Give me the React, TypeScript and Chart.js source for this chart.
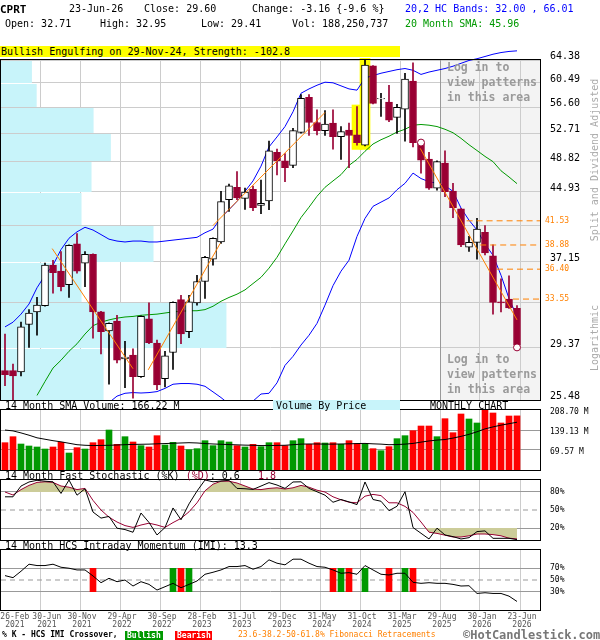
import React, { useEffect, useRef } from 'react';
import { Chart, registerables } from 'chart.js';

Chart.register(...registerables);

const MONO = '"DejaVu Sans Mono", "Liberation Mono", monospace';
const MAROON = '#990033';
const UP_GREEN = '#009900';
const DOWN_RED = '#ff0000';
const BLUE = '#0000ff';
const SMA_GREEN = '#009900';
const ORANGE = '#ff8000';
const KHAKI = '#cccc99';
const CYAN = '#c8f4fa';
const GRID = '#cccccc';
const LEVEL = '#999999';
const CLEAR = 'rgba(0,0,0,0)';

// ---------------- data (monthly, Feb-2021 .. Jun-2026) ----------------
const opens = [27.6, 27.6, 27.5, 31.3, 32.4, 32.95, 36.8, 36.2, 34.9, 39.0,
  37.0, 37.9, 32.4, 30.75, 31.6, 28.5, 28.8, 27.15, 31.8, 29.75,
  27.0, 29.0, 33.5, 30.7, 33.2, 35.2, 37.4, 39.2, 44.0, 45.5,
  44.15, 45.25, 43.3, 43.85, 50.05, 48.9, 48.3, 52.85, 58.15, 54.3,
  53.1, 54.2, 52.25, 53.2, 52.5, 51.05, 63.35, 57.9, 57.4, 55.05,
  56.3, 60.8, 51.3, 49.15, 45.4, 48.6, 45.05, 42.9, 38.65, 39.15,
  40.25, 37.75, 33.3, 33.55, 32.71];
const highs = [30.5, 28.1, 31.5, 32.6, 33.7, 37.0, 37.3, 38.2, 38.9, 40.1,
  38.2, 37.95, 32.45, 31.45, 32.1, 29.9, 29.3, 32.05, 33.2, 30.0,
  29.1, 33.3, 33.9, 33.9, 35.8, 37.7, 39.65, 45.0, 45.9, 47.5,
  45.4, 45.65, 46.4, 51.6, 50.5, 49.9, 53.45, 58.6, 58.6, 56.2,
  56.1, 56.2, 53.7, 54.2, 56.7, 64.38, 63.4, 58.8, 60.1, 57.05,
  62.1, 63.9, 51.6, 50.05, 48.9, 50.25, 46.0, 42.95, 39.8, 41.8,
  41.0, 38.9, 35.45, 35.75, 32.95];
const lows = [26.5, 25.48, 27.2, 29.4, 30.4, 32.9, 34.1, 34.3, 33.7, 36.0,
  34.7, 30.15, 28.9, 26.6, 28.2, 26.35, 25.6, 27.1, 29.7, 26.2,
  26.4, 27.7, 29.7, 30.2, 33.0, 33.6, 36.8, 39.05, 42.6, 44.0,
  42.85, 42.7, 42.35, 42.8, 47.05, 46.2, 48.0, 52.75, 52.4, 52.5,
  52.4, 50.5, 49.1, 48.0, 51.05, 50.95, 57.1, 55.2, 54.4, 52.7,
  51.6, 50.8, 47.3, 45.25, 45.15, 44.35, 41.9, 38.7, 38.2, 37.4,
  37.85, 32.2, 32.4, 32.7, 29.41];
const closes = [27.3, 27.2, 31.1, 32.3, 33.0, 36.8, 36.05, 34.7, 38.85, 36.2,
  37.9, 32.4, 30.7, 31.4, 28.4, 28.65, 27.15, 32.0, 29.8, 26.55,
  28.75, 33.25, 30.5, 33.3, 35.2, 37.6, 39.6, 43.75, 45.7, 44.2,
  44.9, 43.05, 43.55, 50.25, 48.9, 48.0, 53.1, 58.0, 54.3, 53.1,
  54.05, 52.25, 52.95, 52.4, 51.4, 63.5, 57.2, 58.0, 54.65, 56.6,
  61.1, 51.4, 49.0, 45.4, 48.8, 44.95, 43.05, 38.9, 39.15, 40.6,
  38.05, 33.25, 33.2, 32.76, 29.6];

const upperBand = [31.1, 31.5, 32.2, 33.1, 34.6, 35.8, 36.8, 38.4, 39.6, 40.3,
  40.8, 40.5, 40.0, 39.5, 39.3, 39.2, 39.3, 39.3, 39.2, 39.2,
  39.3, 39.4, 39.5, 39.6, 39.7, 40.2, 40.6, 41.9, 42.8, 43.8,
  45.0, 46.3, 48.2, 50.8, 52.2, 53.7, 55.9, 58.8, 59.5, 60.1,
  60.6, 60.5, 60.0, 59.5, 59.3, 61.3, 61.7, 62.1, 62.4, 62.7,
  62.9, 62.6, 61.9, 62.3, 62.6, 62.9, 63.3, 63.8, 64.3, 64.6,
  65.0, 65.4, 65.7, 65.9, 66.01];
const lowerBand = [null, null, null, null, null, null, null, null, null, null,
  null, null, null, 25.3, 25.75, 25.95, 26.0, 25.97, 26.0, 26.07,
  26.3, 26.6, 26.65, 26.65, 26.6, 26.45, 26.05, 25.65, 25.2, 24.8,
  24.9, 25.4, 25.9, 25.95, 26.7, 28.0, 28.7, 29.6, 30.4, 31.4,
  33.0, 34.8, 36.2, 37.3, 39.8, 41.8, 43.2, 43.7, 44.2, 45.2,
  46.0, 47.3, 46.6, 46.2, 46.0, 45.7, 45.0, 43.0, 41.6, 40.5,
  39.0, 37.8, 35.8, 33.6, 32.0];
const sma20 = [null, null, null, null, 25.8, 26.8, 27.8, 28.4, 29.1, 29.7,
  30.5, 31.2, 31.5, 31.7, 31.85, 31.95, 32.0, 32.1, 32.15, 32.2,
  32.3, 32.4, 32.45, 32.5, 32.5, 32.6, 32.9, 33.35, 33.7, 34.0,
  34.4, 35.0, 35.6, 36.5, 37.6, 39.0, 40.4, 41.9, 43.1, 44.4,
  45.5, 46.3, 47.1, 48.3, 49.1, 50.2, 51.2, 51.8, 52.3, 52.9,
  53.3, 53.9, 54.0, 53.9, 53.7, 53.3, 52.8, 52.0, 51.1, 50.3,
  49.5, 48.8, 47.6, 46.8, 45.96];

const volumesM = [95.0, 115.9, 90.4, 83.5, 80.0, 73.0, 80.0, 96.2, 59.1, 77.7,
  73.0, 95.0, 105.5, 139.1, 89.3, 115.9, 97.4, 84.7, 80.0, 119.4,
  87.0, 96.2, 83.5, 70.7, 74.2, 102.0, 84.7, 102.0, 97.4, 84.7,
  80.0, 89.3, 81.2, 95.0, 95.0, 84.7, 102.0, 109.0, 89.3, 95.0,
  93.9, 95.0, 89.3, 102.0, 91.6, 91.6, 74.2, 67.2, 81.2, 109.0,
  119.4, 136.8, 153.0, 153.0, 115.9, 178.5, 129.8, 194.8, 177.4, 163.5,
  207.6, 198.3, 163.5, 187.8, 188.25];
const volumeSma14 = [139, 136, 129, 121, 112, 107, 102, 98, 93, 88,
  86, 85, 85.5, 86, 87, 88, 89, 89.5, 90, 91,
  92, 93, 94, 95, 94, 92, 90.5, 89.5, 88.5, 87.5,
  86.5, 86, 85, 85, 85.5, 86, 88, 90, 90.5, 90.5,
  90, 90, 90.5, 91, 92, 92.5, 91, 90, 88, 88.5,
  90, 92.5, 97, 101, 104, 106, 111, 117, 124, 133,
  143, 150, 156, 161, 166.22];

const stochK = [72, 72, 89.9, 96.7, 99.5, 98, 97, 77.6, 100, 74.7,
  85.4, 46.6, 36.5, 39.3, 19.7, 17.4, 12.9, 45, 29.2, 8.4,
  20.8, 53.4, 33.7, 60.2, 81.5, 100, 97, 98.3, 99.5, 86,
  85.4, 84.3, 89.9, 95.6, 91.6, 86, 96.7, 97, 86, 80.4,
  74.7, 62.9, 67.5, 63.5, 59, 96.7, 67.5, 64.6, 48.9, 56.2,
  80.4, 20.8, 11.2, 1.7, 19.7, 8.4, 5.6, 1.7, 3.9, 14,
  15.2, 2.8, 2.8, 2.8, 0.6];
const stochD = [80, 75, 84, 91, 96, 97, 96, 90, 88, 84,
  86, 66, 50, 38, 30, 24, 21, 25, 28, 25,
  21, 29, 36, 47, 62, 82, 93, 98, 98, 95,
  90, 85, 84, 86, 87, 85, 87, 91, 88, 83,
  80, 72, 67, 63, 62, 73, 76, 74, 62, 62,
  56, 46, 30, 13, 11, 8, 5, 5, 7, 10,
  10, 9, 7, 3, 1.8];

const imi = [57.5, 54, 65, 77, 74.7, 74.7, 77, 71.8, 70.1, 67.2,
  67.2, 56.9, 45.4, 52.9, 47.1, 50, 39.7, 47.1, 42.5, 32.8,
  38.5, 44.3, 36.8, 42.5, 48.3, 59.8, 63.2, 67.2, 73, 73,
  74.7, 68.4, 73, 84.5, 78.7, 75.9, 85.6, 85.6, 78.7, 73,
  71.8, 67.2, 61.5, 62.6, 59.8, 74.7, 67.2, 59.8, 58.6, 61.5,
  61.5, 46, 44.3, 45.4, 44.3, 44.3, 42.5, 39.7, 40.2, 27,
  28.2, 27, 27, 22.4, 13.3];
const bullishCrossMonths = [21, 23, 42, 45, 50];
const bearishCrossMonths = [11, 22, 41, 43, 48, 51];
const crossBand = [30, 70];

const priceTicks = [25.48, 29.37, 33.26, 37.15, 41.04, 44.93, 48.82, 52.71, 56.60, 60.49, 64.38];
const hiddenPriceLabels = [33.26, 41.04];
const vbpVolumeM = [647, 1422, 508, 962, 508, 571, 693, 584, 225, 195];
const vbpAxisMaxM = 3400;

const fibLevels = [41.53, 38.88, 36.40, 33.55];
const fibStartMonth = [57.7, 59.4, 61.5, 63.5];
const trendLines = [
  [[5.9, 38.5], [16.0, 27.75]],
  [[17.9, 27.66], [26.9, 39.05]],
  [[26.0, 41.0], [40.0, 55.8]],
  [[51.9, 50.6], [64.0, 31.7]],
];
const patternCircles = [[52, 51.4], [64, 29.41]];
const highlightMonths = [44, 45];
const highlightRanges = [[50.45, 56.95], [50.45, 64.68]];
const lockedFromMonth = 54;

const xTickMonths = [0, 4, 9, 14, 19, 24, 29, 34, 39, 44, 49, 54, 59, 64];
const xTickLabels = [['26-Feb', '2021'], ['30-Jun', '2021'], ['30-Nov', '2021'], ['29-Apr', '2022'],
  ['30-Sep', '2022'], ['28-Feb', '2023'], ['31-Jul', '2023'], ['29-Dec', '2023'], ['31-May', '2024'],
  ['31-Oct', '2024'], ['31-Mar', '2025'], ['29-Aug', '2025'], ['30-Jan', '2026'], ['23-Jun', '2026']];
const volTicks = [69.57, 139.13, 208.70];
const stochTicks = [20, 50, 80];
const imiTicks = [30, 50, 70];

// ---------------- helpers ----------------
const X_MIN = -0.5;
const X_MAX = 66.875;
const TICK_SHIFT = 0.375;

const monthIdx = opens.map((_, i) => i);
const isUp = (i: number) => closes[i] >= opens[i];
const series = (arr: any[]) => arr.map((v, i) => ({ x: i, y: v }));

function xAxis(showLabels: boolean) {
  return {
    type: 'linear', axis: 'x', position: 'bottom', min: X_MIN, max: X_MAX, offset: false,
    afterBuildTicks: (s: any) => { s.ticks = xTickMonths.map((m) => ({ value: m + TICK_SHIFT })); },
    afterFit: (s: any) => { s.height = showLabels ? 20 : 0; s.paddingLeft = 0; s.paddingRight = 0; },
    grid: { color: (c: any) => (c.index === 0 ? CLEAR : GRID), lineWidth: 1, drawTicks: false, offset: false },
    border: { display: false },
    ticks: {
      display: showLabels, autoSkip: false, maxRotation: 0, minRotation: 0, padding: 3, labelOffset: 2,
      color: '#555555', font: { family: MONO, size: 8, lineHeight: 1 },
      callback: (_v: any, i: number) => {
        const nudge = i < 2 ? '  ' : '';
        return xTickLabels[i].map((s) => nudge + s);
      },
    },
  };
}

function rightAxis(o: any) {
  return {
    type: o.type, position: 'right', min: o.min, max: o.max, offset: false,
    afterBuildTicks: (s: any) => { s.ticks = o.ticks.map((v: number) => ({ value: v })); },
    afterFit: (s: any) => { s.width = 60; s.paddingTop = 0; s.paddingBottom = 0; },
    grid: { color: o.gridColor, drawTicks: false, lineWidth: 1 },
    border: { display: false },
    ticks: {
      autoSkip: false, padding: 10, labelOffset: o.offset, color: '#000000',
      font: { family: MONO, size: o.size }, callback: o.fmt,
    },
  };
}

const framePlugin = {
  id: 'frame',
  afterDraw(chart: any) {
    const { ctx, chartArea: a } = chart;
    ctx.save();
    ctx.strokeStyle = '#000000';
    ctx.lineWidth = 1;
    ctx.strokeRect(a.left - 0.5, a.top - 0.5, a.right - a.left + 1, a.bottom - a.top + 1);
    ctx.restore();
  },
};

const shadePlugin = {
  id: 'shade',
  beforeDraw(chart: any) {
    const { ctx, chartArea: a } = chart;
    const x0 = chart.scales.x.getPixelForValue(lockedFromMonth + TICK_SHIFT);
    ctx.save();
    ctx.fillStyle = '#f3f3f3';
    ctx.fillRect(x0, a.top, a.right - x0, a.bottom - a.top);
    ctx.restore();
  },
};

const vbpPlugin = {
  id: 'vbp',
  beforeDatasetsDraw(chart: any) {
    const { ctx, chartArea: a } = chart;
    const y = chart.scales.y;
    const xv = chart.scales.xv;
    ctx.save();
    ctx.fillStyle = CYAN;
    vbpVolumeM.forEach((v, k) => {
      const yb = Math.round(y.getPixelForValue(priceTicks[k]));
      const yt = Math.round(y.getPixelForValue(priceTicks[k + 1]));
      const x0 = xv.getPixelForValue(0);
      const x1 = xv.getPixelForValue(v);
      ctx.fillRect(x0, yt + 1, x1 - x0, yb - yt - 1);
    });
    const xl = Math.round(chart.scales.x.getPixelForValue(lockedFromMonth + TICK_SHIFT)) + 0.5;
    ctx.strokeStyle = '#999999';
    ctx.lineWidth = 1;
    ctx.beginPath();
    ctx.moveTo(xl, a.top);
    ctx.lineTo(xl, a.bottom);
    ctx.stroke();
    ctx.restore();
  },
};

const fibLabelPlugin = {
  id: 'fibLabels',
  afterDatasetsDraw(chart: any) {
    const { ctx, chartArea: a } = chart;
    const y = chart.scales.y;
    ctx.save();
    ctx.font = `8px ${MONO}`;
    ctx.fillStyle = ORANGE;
    ctx.textBaseline = 'middle';
    ctx.textAlign = 'left';
    fibLevels.forEach((v) => ctx.fillText(v.toFixed(2), a.right + 5, y.getPixelForValue(v)));
    ctx.restore();
  },
};

const baseOptions = (padding: any) => ({
  responsive: false,
  animation: false,
  devicePixelRatio: 1,
  layout: { padding, autoPadding: false },
  plugins: { legend: { display: false }, tooltip: { enabled: false } },
});

function buildMain() {
  const line = (data: any[], color: string, extra: any = {}) => ({
    type: 'line', data, borderColor: color, borderWidth: 1, pointRadius: 0, tension: 0, ...extra,
  });
  return {
    type: 'bar',
    data: {
      datasets: [
        {
          type: 'bar', data: highlightMonths.map((m, k) => ({ x: m, y: highlightRanges[k] })),
          backgroundColor: '#ffff00', barThickness: 10, grouped: false, order: 20,
          clip: { left: 0, right: 0, bottom: 0, top: false },
        },
        line(series(sma20), SMA_GREEN, { order: 12 }),
        line(series(upperBand), BLUE, { order: 11, clip: { left: 0, right: 0, bottom: 0, top: false } }),
        line(series(lowerBand), BLUE, { order: 11 }),
        {
          type: 'bar', data: monthIdx.map((i) => ({ x: i, y: [lows[i], highs[i]] })),
          backgroundColor: monthIdx.map((i) => (isUp(i) ? '#000000' : MAROON)),
          borderWidth: 0, barThickness: 1, grouped: false, order: 4,
        },
        {
          type: 'bar', data: monthIdx.map((i) => ({ x: i, y: [opens[i], closes[i]] })),
          backgroundColor: monthIdx.map((i) => (isUp(i) ? '#ffffff' : MAROON)),
          borderColor: monthIdx.map((i) => (isUp(i) ? '#000000' : MAROON)),
          borderWidth: 1, borderSkipped: false, barThickness: 7, grouped: false, order: 3,
        },
        ...trendLines.map((tl) => line(tl.map(([x, y]) => ({ x, y })), ORANGE, { order: 2 })),
        ...fibLevels.map((v, k) => line([{ x: fibStartMonth[k], y: v }, { x: X_MAX, y: v }], ORANGE, { order: 2, borderDash: [6, 4] })),
        {
          type: 'line', data: patternCircles.map(([x, y]) => ({ x, y })), showLine: false,
          pointRadius: 3.5, pointBorderColor: MAROON, pointBackgroundColor: '#ffffff', pointBorderWidth: 1, order: 1,
        },
      ],
    },
    options: {
      ...baseOptions({ top: 60, left: 1, right: 0, bottom: 10 }),
      scales: {
        x: xAxis(false),
        xv: { type: 'linear', axis: 'x', position: 'bottom', display: false, offset: false, min: 0, max: vbpAxisMaxM },
        y: rightAxis({
          type: 'logarithmic', min: priceTicks[0], max: priceTicks[priceTicks.length - 1], ticks: priceTicks,
          gridColor: GRID, offset: -3.5, size: 10,
          fmt: (v: any) => (hiddenPriceLabels.includes(Number(v)) ? '' : Number(v).toFixed(2)),
        }),
      },
    },
    plugins: [shadePlugin, vbpPlugin, fibLabelPlugin, framePlugin],
  };
}

function buildVolume() {
  return {
    type: 'bar',
    data: {
      datasets: [
        { type: 'line', data: series(volumeSma14), borderColor: '#000000', borderWidth: 1, pointRadius: 0, order: 1 },
        {
          type: 'bar', data: series(volumesM),
          backgroundColor: monthIdx.map((i) => (isUp(i) ? UP_GREEN : DOWN_RED)),
          borderWidth: 0, barThickness: 6, grouped: false, order: 2,
        },
      ],
    },
    options: {
      ...baseOptions({ top: 5, left: 1, right: 0, bottom: 5 }),
      scales: {
        x: xAxis(false),
        y: rightAxis({
          type: 'linear', min: 0, max: volTicks[volTicks.length - 1], ticks: volTicks, offset: 2, size: 8,
          gridColor: (c: any) => (c.tick && c.tick.value >= volTicks[volTicks.length - 1] ? CLEAR : LEVEL),
          fmt: (v: any) => Number(v).toFixed(2) + ' M',
        }),
      },
    },
    plugins: [framePlugin],
  };
}

function levelLine(v: number) {
  return {
    type: 'line', data: [{ x: X_MIN, y: v }, { x: X_MAX, y: v }], borderColor: LEVEL, borderWidth: 1,
    borderDash: [5, 4], pointRadius: 0, order: 9,
  };
}

function buildStoch() {
  return {
    type: 'line',
    data: {
      datasets: [
        levelLine(50),
        {
          data: series(stochD), borderColor: CLEAR, borderWidth: 0, pointRadius: 0,
          fill: { target: { value: 20 }, above: CLEAR, below: KHAKI }, order: 8,
        },
        {
          data: series(stochD), borderColor: MAROON, borderWidth: 1, pointRadius: 0,
          fill: { target: { value: 80 }, above: KHAKI, below: CLEAR }, order: 2,
        },
        { data: series(stochK), borderColor: '#000000', borderWidth: 1, pointRadius: 0, order: 1 },
      ],
    },
    options: {
      ...baseOptions({ top: 5, left: 1, right: 0, bottom: 5 }),
      scales: {
        x: xAxis(false),
        y: rightAxis({
          type: 'linear', min: 0, max: 100, ticks: stochTicks, offset: 0, size: 8,
          gridColor: (c: any) => (c.tick && c.tick.value === 50 ? CLEAR : LEVEL),
          fmt: (v: any) => v + '%',
        }),
      },
    },
    plugins: [framePlugin],
  };
}

function buildImi() {
  const cross = (months: number[], color: string) => ({
    type: 'bar', data: months.map((m) => ({ x: m, y: crossBand })), backgroundColor: color,
    borderWidth: 0, barThickness: 6, grouped: false, order: 3,
  });
  return {
    type: 'bar',
    data: {
      datasets: [
        levelLine(50),
        cross(bullishCrossMonths, UP_GREEN),
        cross(bearishCrossMonths, DOWN_RED),
        { type: 'line', data: series(imi), borderColor: '#000000', borderWidth: 1, pointRadius: 0, order: 1 },
      ],
    },
    options: {
      ...baseOptions({ top: 5, left: 1, right: 0, bottom: 0 }),
      scales: {
        x: xAxis(true),
        y: rightAxis({
          type: 'linear', min: -1.3, max: 101.3, ticks: imiTicks, offset: 0, size: 8,
          gridColor: (c: any) => (c.tick && c.tick.value === 50 ? CLEAR : LEVEL),
          fmt: (v: any) => v + '%',
        }),
      },
    },
    plugins: [framePlugin],
  };
}

// ---------------- text helpers ----------------
function T(props: any) {
  const { x, cy, size = 10, color = '#000000', bold = false, children, style = {} } = props;
  return (
    <span
      style={{
        position: 'absolute', left: x, top: cy - size / 2, fontSize: size, lineHeight: size + 'px',
        height: size, color, fontWeight: bold ? 'bold' : 'normal', fontFamily: MONO, whiteSpace: 'pre', ...style,
      }}
    >
      {children}
    </span>
  );
}

function Vertical(props: any) {
  const { cx, cy, children } = props;
  return (
    <span
      style={{
        position: 'absolute', left: cx, top: cy, transform: 'translate(-50%, -50%) rotate(-90deg)',
        fontFamily: MONO, fontSize: 10, lineHeight: '10px', color: '#aaaaaa', whiteSpace: 'pre',
      }}
    >
      {children}
    </span>
  );
}

function LockedNote(props: any) {
  return (
    <div
      style={{
        position: 'absolute', left: 447, top: props.top, fontFamily: MONO, fontSize: 11.5, fontWeight: 'bold',
        lineHeight: '15px', color: '#9a9a9a', whiteSpace: 'pre',
      }}
    >
      {'Log in to\nview patterns\nin this area'}
    </div>
  );
}

export default function App() {
  const mainRef = useRef<HTMLCanvasElement>(null);
  const volRef = useRef<HTMLCanvasElement>(null);
  const stochRef = useRef<HTMLCanvasElement>(null);
  const imiRef = useRef<HTMLCanvasElement>(null);

  useEffect(() => {
    const charts = [
      new Chart(mainRef.current as any, buildMain() as any),
      new Chart(volRef.current as any, buildVolume() as any),
      new Chart(stochRef.current as any, buildStoch() as any),
      new Chart(imiRef.current as any, buildImi() as any),
    ];
    return () => charts.forEach((c) => c.destroy());
  }, []);

  const cv = (top: number): any => ({ position: 'absolute', left: 0, top });

  return (
    <div style={{ position: 'fixed', left: 0, top: 0, width: 600, height: 640, background: '#ffffff', overflow: 'hidden' }}>
      <canvas ref={mainRef} width={600} height={410} style={cv(0)} />
      <canvas ref={volRef} width={600} height={70} style={cv(405)} />
      <canvas ref={stochRef} width={600} height={70} style={cv(475)} />
      <canvas ref={imiRef} width={600} height={85} style={cv(545)} />

      <T x={0} cy={9} size={11} bold>CPRT</T>
      <T x={69} cy={9}>23-Jun-26</T>
      <T x={144} cy={9}>Close: 29.60</T>
      <T x={252} cy={9}>{'Change: -3.16 {-9.6 %}'}</T>
      <T x={405} cy={9} color={BLUE}>20,2 HC Bands: 32.00 , 66.01</T>
      <T x={5} cy={24}>Open: 32.71</T>
      <T x={100} cy={24}>High: 32.95</T>
      <T x={201} cy={24}>Low: 29.41</T>
      <T x={292} cy={24}>Vol: 188,250,737</T>
      <T x={405} cy={24} color={SMA_GREEN}>20 Month SMA: 45.96</T>

      <div style={{ position: 'absolute', left: 0, top: 46, width: 400, height: 11, background: '#ffff00' }} />
      <T x={1} cy={51.5}>Bullish Engulfing on 29-Nov-24, Strength: -102.8</T>

      <LockedNote top={60} />
      <LockedNote top={351.5} />

      <Vertical cx={595} cy={160}>Split and Dividend Adjusted</Vertical>
      <Vertical cx={595} cy={338}>Logarithmic</Vertical>

      <T x={5} cy={405.5}>14 Month SMA Volume: 166.22 M</T>
      <div style={{ position: 'absolute', left: 273, top: 400, width: 127, height: 10, background: CYAN }} />
      <T x={276} cy={405.5}>Volume By Price</T>
      <T x={430} cy={405.5}>MONTHLY CHART</T>

      <T x={5} cy={475.5}>
        {'14 Month Fast Stochastic (%K) '}
        <span style={{ color: MAROON }}>(%D)</span>
        {': 0.6   '}
        <span style={{ color: MAROON }}>1.8</span>
      </T>

      <T x={5} cy={545.5}>14 Month HCS Intraday Momentum (IMI): 13.3</T>

      <T x={2} cy={635} size={8} bold>% K - HCS IMI Crossover,</T>
      <div style={{ position: 'absolute', left: 125, top: 631, width: 38, height: 9, background: UP_GREEN }} />
      <T x={127} cy={635.5} size={8} bold color="#ffffff">Bullish</T>
      <div style={{ position: 'absolute', left: 175, top: 631, width: 37, height: 9, background: DOWN_RED }} />
      <T x={177} cy={635.5} size={8} bold color="#ffffff">Bearish</T>
      <T x={238} cy={635} size={8} color={ORANGE}>23.6-38.2-50-61.8% Fibonacci Retracements</T>
      <T x={463} cy={634.5} size={12} bold color="#777777">©HotCandlestick.com</T>
    </div>
  );
}
